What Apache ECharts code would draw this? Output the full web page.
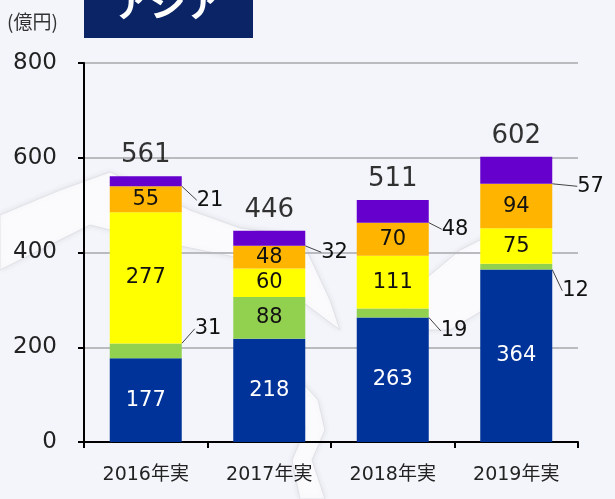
<!DOCTYPE html>
<html>
<head>
<meta charset="utf-8">
<script src="https://cdn.jsdelivr.net/npm/echarts@6/dist/echarts.min.js"></script>
<style>
  html, body { margin: 0; padding: 0; background: #f3f5fa; }
  #main { width: 615px; height: 499px; }
</style>
</head>
<body>
<div id="main"></div>
<script>
// データ
var years = ['2016年実', '2017年実', '2018年実', '2019年実'];
var navy = [177, 218, 263, 364];
var green = [31, 88, 19, 12];
var yellow = [277, 60, 111, 75];
var orange = [55, 48, 70, 94];
var purple = [21, 32, 48, 57];
var yTicks = [0, 200, 400, 600, 800];

var totals = years.map(function (y, i) {
  return navy[i] + green[i] + yellow[i] + orange[i] + purple[i];
});

var font = 'DejaVu Sans, Verdana, sans-serif';
var cjk = 'DejaVu Sans, Noto Sans CJK JP, sans-serif';

// 外側ラベルの位置ずらし
var greenOut = { 0: [8, -22], 2: [7, 18], 3: [5, 24] };
var purpleOut = { 0: [10, 19], 1: [11, 14], 2: [8, 18], 3: [20, 16] };

function outsideItems(values, offsets) {
  return values.map(function (v, i) {
    if (offsets[i]) {
      return {
        value: v,
        label: { position: 'right', color: '#111', distance: 5 },
        labelLine: { show: true, lineStyle: { color: '#444', width: 1 } }
      };
    }
    return v;
  });
}

function layoutFor(offsets) {
  return function (params) {
    var o = offsets[params.dataIndex];
    if (!o) return {};
    return { dx: o[0], dy: o[1] };
  };
}

var chart = echarts.init(document.getElementById('main'));

function barSeries(name, data, color, labelColor, extra) {
  var s = {
    name: name,
    type: 'bar',
    stack: 'total',
    barWidth: 72,
    data: data,
    itemStyle: { color: color },
    label: {
      show: true,
      position: 'inside',
      color: labelColor,
      fontFamily: font,
      fontSize: 21
    }
  };
  for (var k in extra) s[k] = extra[k];
  return s;
}

var sheetStyle = { fill: '#fbfbfd', stroke: '#e1e2e7', lineWidth: 1, shadowBlur: 6, shadowColor: 'rgba(0,0,0,0.08)' };

var option = {
  backgroundColor: '#f3f5fa',
  animation: false,
  grid: { left: 84, right: 37, top: 63, bottom: 57 },
  graphic: [
    // 背景の飾り
    {
      type: 'polygon',
      z: -10,
      shape: { points: [[0, 215], [60, 190], [110, 172], [190, 210], [240, 228], [300, 236], [330, 300], [340, 330], [300, 300], [250, 260], [200, 250], [150, 240], [90, 225], [40, 250], [0, 270]] },
      style: sheetStyle
    },
    {
      type: 'polygon',
      z: -10,
      shape: { points: [[300, 380], [318, 400], [325, 430], [312, 460], [325, 499], [300, 499], [292, 460], [305, 430]] },
      style: sheetStyle
    },
    {
      type: 'polygon',
      z: -10,
      shape: { points: [[400, 300], [460, 250], [500, 230], [530, 210], [545, 260], [500, 300], [450, 330], [420, 330]] },
      style: sheetStyle
    },
    {
      type: 'rect',
      shape: { x: 84, y: 0, width: 169, height: 38 },
      style: { fill: '#0a2465' }
    },
    {
      type: 'text',
      x: 114, y: -15,
      style: {
        text: 'アジア',
        fill: '#ffffff',
        font: 'bold 36px "Noto Sans CJK JP"'
      }
    },
    {
      type: 'text',
      x: 7, y: 12,
      style: {
        text: '(億円)',
        fill: '#333',
        font: '19px "Noto Sans CJK JP"'
      }
    }
  ],
  xAxis: {
    type: 'category',
    data: years,
    axisLine: { lineStyle: { color: '#000', width: 2 } },
    axisTick: { show: true, length: 6, lineStyle: { color: '#000', width: 2 } },
    axisLabel: { color: '#222', fontSize: 19, fontFamily: cjk, margin: 24 }
  },
  yAxis: {
    type: 'value',
    min: 0,
    max: yTicks[yTicks.length - 1],
    interval: yTicks[1] - yTicks[0],
    axisLine: { show: true, lineStyle: { color: '#000', width: 2 } },
    axisTick: { show: true, length: 6, lineStyle: { color: '#000', width: 2 } },
    axisLabel: { color: '#222', fontSize: 23, fontFamily: font, margin: 27 },
    splitLine: { lineStyle: { color: '#b9bbbf', width: 2 } }
  },
  series: [
    barSeries('navy', navy, '#003399', '#ffffff', {}),
    barSeries('green', outsideItems(green, greenOut), '#92d050', '#111', {
      labelLayout: layoutFor(greenOut)
    }),
    barSeries('yellow', yellow, '#ffff00', '#111', {}),
    barSeries('orange', orange, '#ffb400', '#111', {}),
    barSeries('purple', outsideItems(purple, purpleOut), '#6600cc', '#111', {
      labelLayout: layoutFor(purpleOut)
    }),
    {
      name: 'total',
      type: 'scatter',
      data: totals,
      symbolSize: 1,
      itemStyle: { color: 'transparent' },
      label: {
        show: true,
        position: 'top',
        distance: 7,
        color: '#000',
        fontFamily: font,
        fontSize: 26
      },
      z: 5
    }
  ]
};

chart.setOption(option);
</script>
</body>
</html>
